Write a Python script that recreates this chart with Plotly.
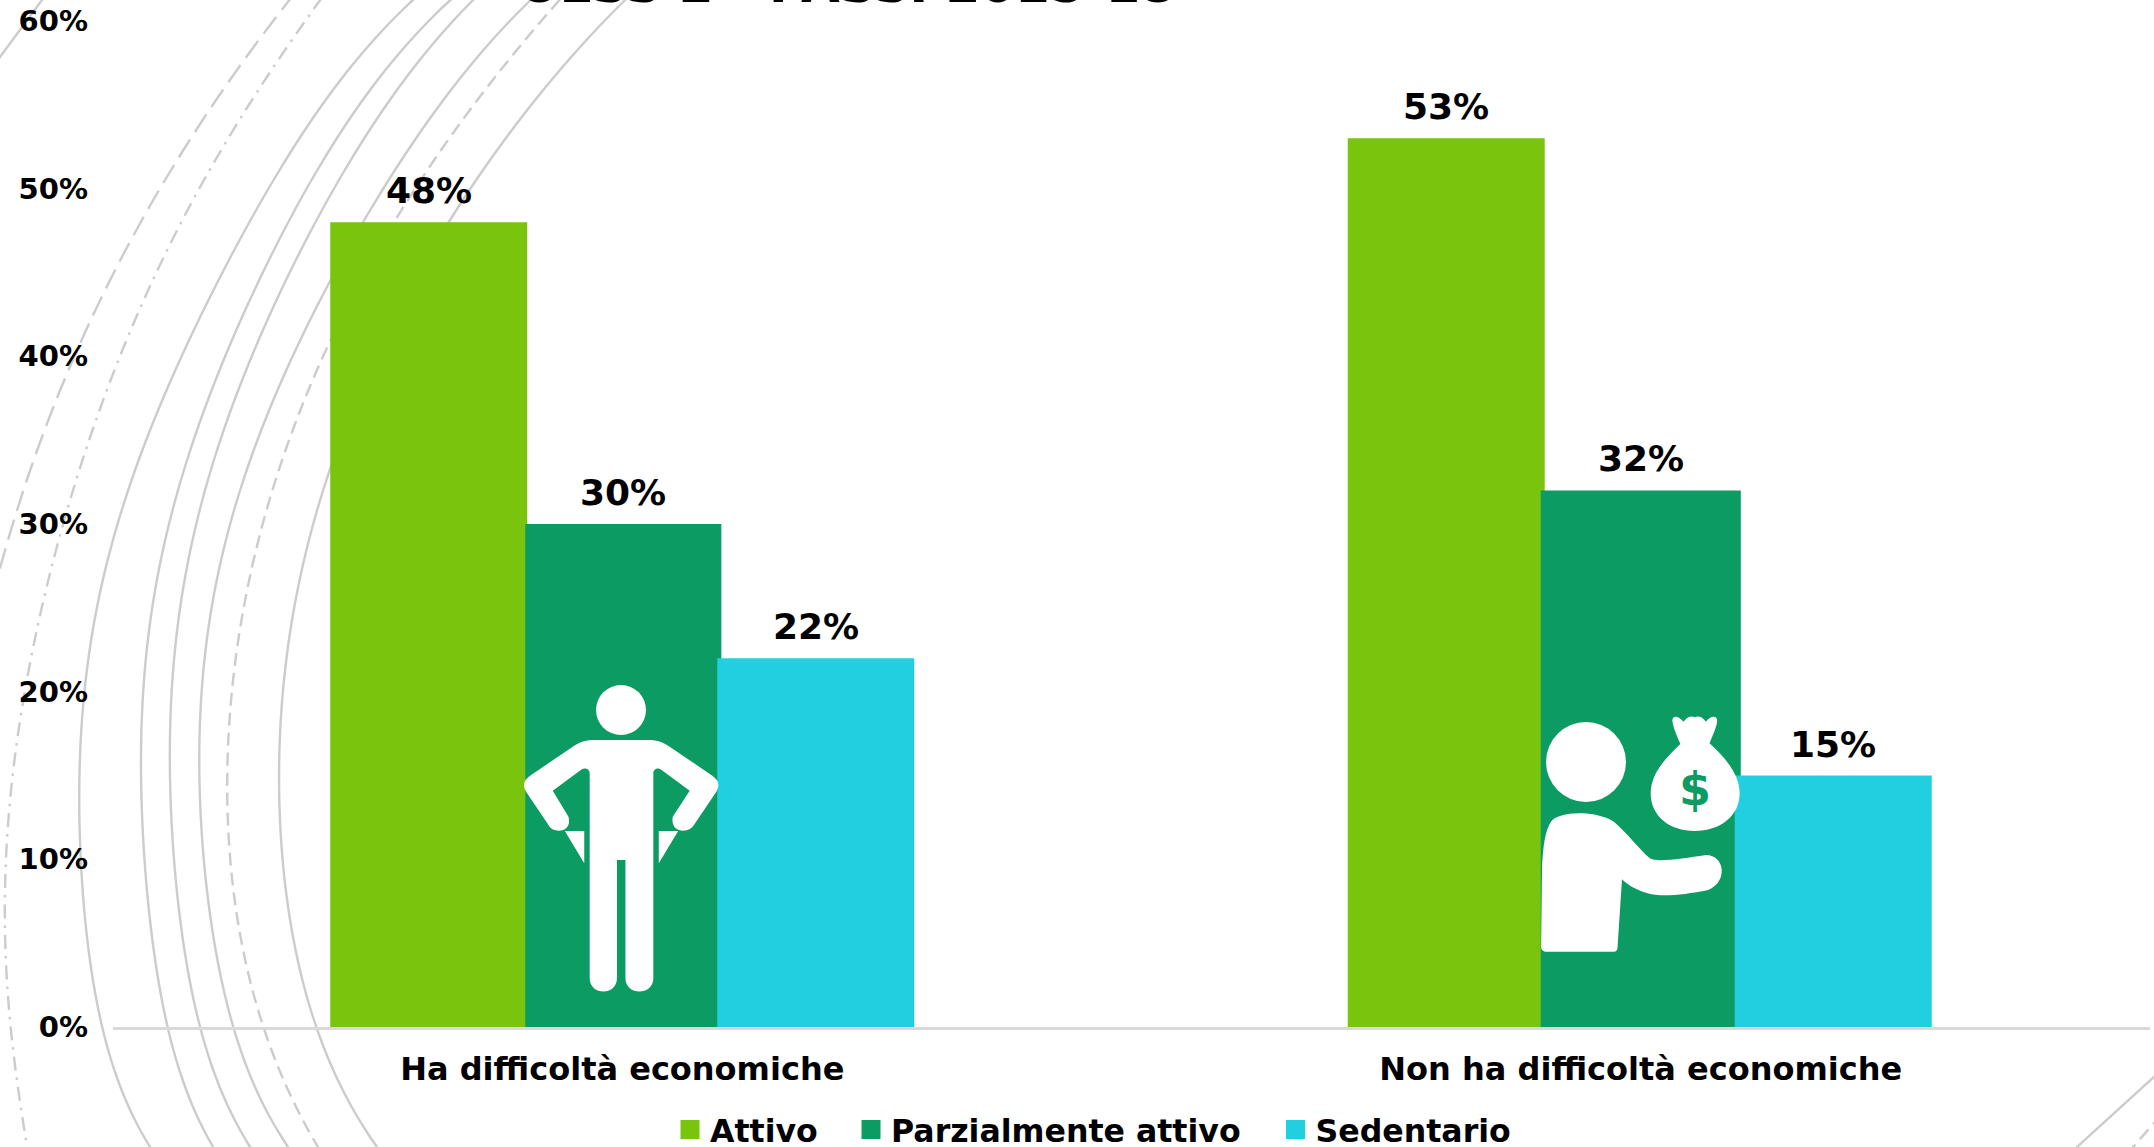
import re
import numpy as np
import plotly.graph_objects as go

# ---------- data ----------
categories = ["Ha difficoltà economiche", "Non ha difficoltà economiche"]
attivo = [0.48, 0.53]
parziale = [0.30, 0.32]
sedentario = [0.22, 0.15]
series_names = ["Attivo", "Parzialmente attivo", "Sedentario"]
y_ticks = [0, 0.1, 0.2, 0.3, 0.4, 0.5, 0.6]
title_text = "ULSS 2 - PASSI 2015-18"

# ---------- style ----------
W, H = 2154, 1147
FIG_H = H + 40  # a little spare room below the page so the legend does not push the plot area
COLORS = ["#79C50D", "#0C9B62", "#22CFE0"]
FONT = "DejaVu Sans"
ARC = "#CCCCCC"
BAR_W = [[0.1934, 0.1934], [0.1925, 0.1964], [0.1934, 0.1934]]
OFFSETS = [[-0.2867, -0.2877], [-0.0952, -0.0982], [0.0933, 0.0923]]


def fx(x):
    return x / W


def fy(y):
    return 1 - y / FIG_H


def smooth(points, deg):
    """smooth decorative curve through hand-read page-pixel points, in paper coordinates"""
    p = np.array(points, float)
    if deg < 2:
        q = np.array([p[0] - 0.3 * (p[1] - p[0]), p[1] + 0.3 * (p[1] - p[0])])
    else:
        c = np.polyfit(p[:, 1] / H, p[:, 0] / W, deg)
        ys = np.arange(p[:, 1].min() - 30, p[:, 1].max() + 35, 8.0)
        q = np.column_stack([np.polyval(c, ys / H) * W, ys])
    return "M" + " L".join(f"{fx(a):.5f},{fy(b):.5f}" for a, b in q)


def icon(d, sx, sy, ox, oy):
    """icon outline drawn in a local grid -> paper coordinates"""
    toks = re.findall(r"[A-Za-z]|-?\d+\.?\d*", d)
    out, even = [], True
    for t in toks:
        if t.isalpha():
            out.append(t)
            even = True
        else:
            v = float(t)
            if even:
                out.append(f"{fx(v / sx + ox):.5f},")
            else:
                out.append(f"{fy(v / sy + oy):.5f} ")
            even = not even
    return "".join(out)


# ---------- decorative arcs (background) ----------
LONG = "21px,9px"
SHORT = "13px,7px"
DOTTED = "14px,7px,2.5px,7px"
arcs = [
    ("solid", 1, [(42, 0), (0, 57)]),
    (LONG, 3, [(290, 0), (237, 70), (203, 117), (172, 168), (143, 220), (103, 298), (63, 380), (23, 490), (0, 570)]),
    (DOTTED, 6, [(318, 3), (267, 77), (220, 152), (178, 228), (145, 298), (97, 417), (70, 500), (43, 600), (30, 672),
                 (12, 767), (6, 883), (8, 1000), (26, 1140)]),
    ("solid", 6, [(413, 0), (343, 77), (293, 147), (247, 227), (210, 299), (167, 390), (125, 493), (100, 593), (87, 697),
                  (77, 800), (82, 883), (97, 1000), (150, 1147)]),
    ("solid", 6, [(450, 0), (377, 83), (327, 153), (287, 217), (255, 299), (213, 387), (177, 487), (153, 593), (146, 697),
                  (141, 800), (148, 917), (163, 1000), (213, 1147)]),
    ("solid", 6, [(473, 0), (403, 83), (350, 160), (310, 227), (282, 299), (240, 383), (203, 490), (182, 593), (174, 697),
                  (170, 800), (178, 917), (195, 1000), (250, 1147)]),
    ("solid", 6, [(530, 0), (500, 33), (437, 107), (363, 222), (322, 299), (277, 390), (237, 500), (213, 593), (203, 697),
                  (200, 800), (209, 917), (227, 1000), (288, 1147)]),
    (SHORT, 6, [(559, 0), (497, 77), (447, 140), (393, 222), (328, 347), (293, 433), (263, 523), (243, 600), (232, 697),
                (228, 800), (237, 917), (255, 1000), (318, 1147)]),
    ("solid", 6, [(625, 0), (500, 147), (448, 222), (383, 340), (330, 477), (307, 540), (290, 627), (283, 697),
                  (280, 800), (289, 917), (308, 1000), (377, 1147)]),
    ("solid", 1, [(2077, 1147), (2154, 1077)]),
    (SHORT, 1, [(2133, 1147), (2154, 1123)]),
]
shapes = [
    dict(type="path", xref="paper", yref="paper", path=smooth(p, deg), layer="below",
         line=dict(color=ARC, width=2.4, dash=dash))
    for dash, deg, p in arcs
]

# ---------- white icons ----------
MAN = ("M980,270 L1070,270 C1085,270 1095,278 1105,290 L1176,378 C1186,392 1188,405 1182,425 L1145,525 "
       "C1138,550 1105,552 1110,500 L1138,422 L1090,358 C1085,352 1078,358 1078,370 L1078,985 "
       "C1078,1038 1032,1038 1032,985 L1032,630 L1018,630 L1018,985 C1018,1038 973,1038 973,985 L973,370 "
       "C973,358 966,352 960,358 L912,422 L938,500 C945,552 910,550 905,525 L868,425 C862,405 864,392 874,378 "
       "L945,290 C955,278 965,270 980,270 Z "
       "M932,543 L964,543 L964,640 Z M1087,543 L1119,543 L1087,640 Z")
BODY = ("M203,800 L205,560 C207,500 212,450 225,425 C240,395 320,388 365,425 C395,460 420,505 445,535 "
        "C460,548 520,535 570,525 C612,525 620,605 575,630 C520,645 470,652 440,640 C415,630 395,615 383,598 "
        "L373,805 C372,812 370,815 365,815 L215,815 C208,815 203,810 203,800 Z")
BAG = ("M495,120 C497,106 508,106 520,125 C530,108 538,108 545,112 C552,108 560,108 570,125 C580,106 594,106 595,120 "
       "C595,140 585,165 578,190 C610,230 645,280 645,340 C645,410 600,453 545,453 C490,453 447,410 447,340 "
       "C447,280 480,235 513,192 C505,165 497,145 495,120 Z")
for d, sx, sy, ox, oy in [(MAN, 1.65, 3, 0, 650), (BODY, 2.227, 3, 1450, 680), (BAG, 2.227, 3, 1450, 680)]:
    shapes.append(dict(type="path", xref="paper", yref="paper", path=icon(d, sx, sy, ox, oy),
                       fillcolor="white", line=dict(width=0), layer="above"))
for cx, cy, r in [(621, 710, 25), (1586, 762, 40)]:
    shapes.append(dict(type="circle", xref="paper", yref="paper", x0=fx(cx - r), x1=fx(cx + r),
                       y0=fy(cy + r), y1=fy(cy - r), fillcolor="white", line=dict(width=0), layer="above"))

# ---------- figure ----------
fig = go.Figure()
annotations = []
for name, vals, col, off, wid in zip(series_names, [attivo, parziale, sedentario], COLORS, OFFSETS, BAR_W):
    fig.add_trace(go.Bar(x=categories, y=vals, name=name, width=wid, offset=off,
                         marker=dict(color=col, line=dict(width=0)), showlegend=False))
    for i, v in enumerate(vals):
        annotations.append(dict(x=i + off[i] + wid[i] / 2, y=v, xref="x", yref="y", text=f"{v * 100:.0f}%",
                                showarrow=False, yanchor="bottom", yshift=9,
                                font=dict(family=FONT, size=36, color="black", weight="bold")))

for name, col, lw in zip(series_names, COLORS, [136, 379.5, 200]):
    fig.add_trace(go.Scatter(x=[None], y=[None], mode="markers", name=name, legendwidth=lw,
                             marker=dict(symbol="square", size=16, color=col, line=dict(color=col, width=3))))

annotations.append(dict(x=fx(847), y=fy(16), xref="paper", yref="paper", text=title_text, showarrow=False,
                        yanchor="bottom", xanchor="center",
                        font=dict(family=FONT, size=50, color="black", weight="bold")))
annotations.append(dict(x=fx(1695), y=fy(789), xref="paper", yref="paper", text="$", showarrow=False,
                        xanchor="center", yanchor="middle",
                        font=dict(family=FONT, size=46, color=COLORS[1], weight="bold")))

fig.update_layout(
    width=W, height=FIG_H, autosize=False, margin=dict(l=0, r=0, t=0, b=0),
    paper_bgcolor="white", plot_bgcolor="rgba(0,0,0,0)",
    barmode="overlay", shapes=shapes, annotations=annotations,
    font=dict(family=FONT, color="black"),
    legend=dict(orientation="h", x=fx(670), xanchor="left", y=fy(1130), yanchor="middle",
                itemsizing="trace", itemwidth=30, bgcolor="rgba(0,0,0,0)",
                font=dict(family=FONT, size=31.6, color="black", weight="bold")),
    xaxis=dict(domain=[fx(113), fx(2150)], type="category", categoryorder="array", categoryarray=categories,
               range=[-0.5, 1.5], showline=True, linecolor="#D9D9D9", linewidth=3, showgrid=False, ticks="",
               automargin=False, ticklabelstandoff=12,
               tickfont=dict(family=FONT, size=32, color="black", weight="bold")),
    yaxis=dict(domain=[fy(1027), fy(21)], range=[0, 0.6], tickvals=y_ticks, tickformat=".0%", showgrid=False,
               showline=False, zeroline=False, ticks="", ticklabelstandoff=24, automargin=False,
               tickfont=dict(family=FONT, size=29, color="black", weight="bold")),
)

fig.write_html("out.html", config={"displayModeBar": False},
               post_script=("document.documentElement.style.overflow='hidden';"
                            "document.body.style.margin='0';document.body.style.height='1147px';"
                            "document.body.style.overflow='hidden';"))
